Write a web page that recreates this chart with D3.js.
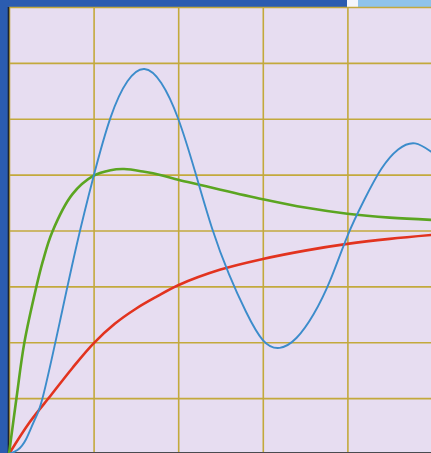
<!DOCTYPE html>
<html>
<head>
<meta charset="utf-8">
<script src="https://cdn.jsdelivr.net/npm/d3@7"></script>
<style>
  body { margin: 0; background: #ffffff; }
  svg { display: block; }
  .grid line { stroke: #c3a93c; stroke-width: 1.6; }
  .grid path { display: none; }
</style>
</head>
<body>
<div id="chart"></div>
<script>
var svgWidth = 431;
var svgHeight = 453;

// plot box (the picture is cropped on the right and bottom)
var plot = { left: 9, top: 7, right: 432, bottom: 454 };

// grid positions
var xTicks = [0, 1, 2, 3, 4, 5];
var yTicks = [0, 1, 2, 3, 4, 5, 6, 7, 8];

// red: slow first-order rise
var redX = [0, 0.25, 0.5, 0.75, 1.0, 1.25, 1.5, 1.75, 2.0, 2.5, 3.0, 3.5, 4.0, 4.5, 5.0];
var redY = [0, 0.58, 1.06, 1.54, 1.98, 2.33, 2.6, 2.82, 3.02, 3.3, 3.49, 3.64, 3.76, 3.85, 3.92];

// green: fast rise, small overshoot
var greenX = [0, 0.09, 0.18, 0.32, 0.4, 0.51, 0.75, 1.0, 1.2, 1.36, 1.6, 1.8, 2.0, 2.25, 2.5, 3.0, 3.5, 4.0, 4.5, 5.0];
var greenY = [0, 1.02, 1.98, 2.97, 3.45, 3.97, 4.65, 4.98, 5.08, 5.1, 5.05, 4.99, 4.91, 4.82, 4.73, 4.56, 4.41, 4.3, 4.23, 4.19];

// blue: damped oscillation
var blueX = [0, 0.1, 0.2, 0.3, 0.4, 0.6, 0.8, 1.0, 1.2, 1.4, 1.6, 1.8, 2.0, 2.2, 2.4, 2.6, 2.8, 3.0, 3.2, 3.4, 3.6, 3.8, 4.0, 4.2, 4.4, 4.6, 4.8, 5.0];
var blueY = [0, 0.07, 0.26, 0.6, 1.02, 2.36, 3.74, 4.97, 6.02, 6.67, 6.89, 6.64, 6.0, 5.05, 4.04, 3.22, 2.55, 2.04, 1.9, 2.08, 2.5, 3.12, 3.9, 4.55, 5.1, 5.45, 5.56, 5.4];

var series = [
    { name: "red", xs: redX, ys: redY, color: "#e2331f", width: 2.6, curve: d3.curveCatmullRom.alpha(0.5) },
    { name: "green", xs: greenX, ys: greenY, color: "#5ba521", width: 2.6, curve: d3.curveCatmullRom.alpha(0.5) },
    { name: "blue", xs: blueX, ys: blueY, color: "#3c8ccb", width: 1.9, curve: d3.curveNatural }
];

var svg = d3.select("#chart")
    .append("svg")
    .attr("width", svgWidth)
    .attr("height", svgHeight);

var xScale = d3.scaleLinear().domain([0, 5]).range([plot.left, plot.right]);
var yScale = d3.scaleLinear().domain([0, 8]).range([plot.bottom, plot.top]);

// frame: blue strips on top and left
svg.append("rect")
    .attr("x", 0).attr("y", 0)
    .attr("width", svgWidth).attr("height", svgHeight)
    .attr("fill", "#2b5cb0");
svg.append("rect")
    .attr("x", 347).attr("y", 0)
    .attr("width", 11).attr("height", plot.top)
    .attr("fill", "#f4f6fb");
svg.append("rect")
    .attr("x", 358).attr("y", 0)
    .attr("width", svgWidth - 358).attr("height", plot.top)
    .attr("fill", "#8fc3ea");

// lavender plot area
svg.append("rect")
    .attr("x", plot.left).attr("y", plot.top)
    .attr("width", plot.right - plot.left).attr("height", plot.bottom - plot.top)
    .attr("fill", "#e7ddf1");

// grid via axes
svg.append("g")
    .attr("class", "grid")
    .attr("transform", `translate(0, ${plot.bottom})`)
    .call(d3.axisBottom(xScale).tickValues(xTicks).tickSize(-(plot.bottom - plot.top)).tickFormat(""));

svg.append("g")
    .attr("class", "grid")
    .attr("transform", `translate(${plot.left}, 0)`)
    .call(d3.axisLeft(yScale).tickValues(yTicks).tickSize(-(plot.right - plot.left)).tickFormat(""));

// dark left edge and bottom edge
svg.append("line")
    .attr("x1", plot.left - 0.5).attr("x2", plot.left - 0.5)
    .attr("y1", plot.top).attr("y2", svgHeight)
    .attr("stroke", "#1d2430").attr("stroke-width", 1.6);
svg.append("line")
    .attr("x1", plot.left).attr("x2", svgWidth)
    .attr("y1", svgHeight - 0.5).attr("y2", svgHeight - 0.5)
    .attr("stroke", "#4a4a50").attr("stroke-width", 1.2);

// curves
series.forEach(function (s) {
    var line = d3.line()
        .x(d => xScale(d[0]))
        .y(d => yScale(d[1]))
        .curve(s.curve);
    var pts = s.xs.map((x, i) => [x, s.ys[i]]);
    svg.append("path")
        .datum(pts)
        .attr("class", "curve " + s.name)
        .attr("fill", "none")
        .attr("stroke", s.color)
        .attr("stroke-width", s.width)
        .attr("stroke-linejoin", "round")
        .attr("d", line);
});
</script>
</body>
</html>
